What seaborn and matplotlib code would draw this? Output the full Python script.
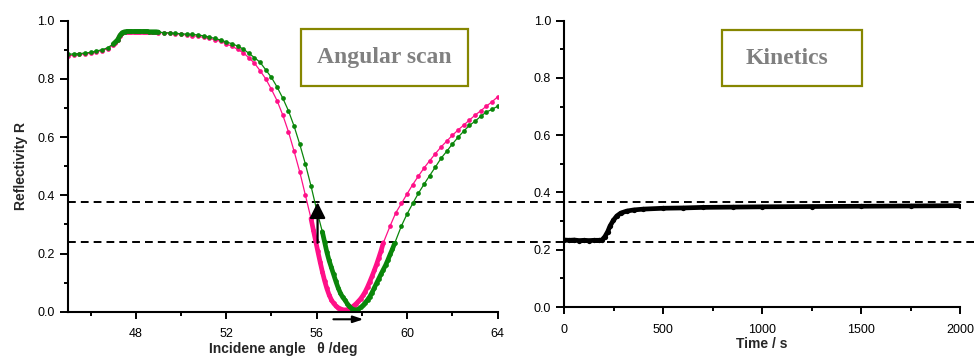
import numpy as np
import pandas as pd
import seaborn as sns
import matplotlib.pyplot as plt
from matplotlib.patches import Rectangle

# angular scan, green (after adsorption) curve
green_angle = [45.0, 45.25, 45.5, 45.75, 46.0, 46.25, 46.5, 46.75, 47.0,
               47.1, 47.2, 47.3, 47.4, 47.5, 47.6, 47.7, 47.8, 47.9, 48.0,
               48.1, 48.2, 48.3, 48.4, 48.5, 48.6, 48.7, 48.8, 48.9, 49.0,
               49.25, 49.5, 49.75, 50.0, 50.25, 50.5, 50.75, 51.0, 51.25, 51.5,
               51.75, 52.0, 52.25, 52.5, 52.75, 53.0, 53.25, 53.5, 53.75, 54.0,
               54.25, 54.5, 54.75, 55.0, 55.25, 55.5, 55.75, 56.0, 56.25,
               56.35, 56.45, 56.55, 56.65, 56.75, 56.85, 56.95, 57.05, 57.15, 57.25,
               57.35, 57.45, 57.55, 57.65, 57.75, 57.85, 57.95, 58.05, 58.15, 58.25,
               58.35, 58.45, 58.55, 58.65, 58.75, 58.85, 58.95, 59.05, 59.15, 59.25,
               59.35, 59.45,
               59.75, 60.0, 60.25, 60.5, 60.75, 61.0, 61.25, 61.5, 61.75, 62.0,
               62.25, 62.5, 62.75, 63.0, 63.25, 63.5, 63.75, 64.0]
green_R = [0.884, 0.886, 0.887, 0.889, 0.891, 0.896, 0.900, 0.907, 0.920,
           0.927, 0.935, 0.950, 0.959, 0.962, 0.963, 0.963, 0.963, 0.963, 0.963,
           0.963, 0.963, 0.963, 0.963, 0.963, 0.962, 0.962, 0.962, 0.962, 0.961,
           0.959, 0.958, 0.957, 0.955, 0.954, 0.953, 0.951, 0.948, 0.944, 0.939,
           0.934, 0.927, 0.921, 0.913, 0.903, 0.888, 0.873, 0.857, 0.831, 0.805,
           0.772, 0.734, 0.691, 0.638, 0.576, 0.508, 0.432, 0.350, 0.275,
           0.240, 0.205, 0.176, 0.152, 0.128, 0.104, 0.082, 0.064, 0.050, 0.040,
           0.028, 0.018, 0.011, 0.007, 0.006, 0.009, 0.015, 0.022, 0.031, 0.041,
           0.052, 0.066, 0.082, 0.098, 0.114, 0.130, 0.145, 0.160, 0.178, 0.197,
           0.215, 0.235,
           0.295, 0.336, 0.372, 0.407, 0.438, 0.468, 0.497, 0.527, 0.551, 0.576,
           0.599, 0.620, 0.640, 0.654, 0.671, 0.686, 0.695, 0.706]

# angular scan, pink (before adsorption) curve
pink_angle = [45.0, 45.25, 45.5, 45.75, 46.0, 46.25, 46.5, 46.75, 47.0,
              47.1, 47.2, 47.3, 47.4, 47.5, 47.6, 47.7, 47.8, 47.9, 48.0,
              48.1, 48.2, 48.3, 48.4, 48.5, 48.6, 48.7, 48.8, 48.9, 49.0,
              49.25, 49.5, 49.75, 50.0, 50.25, 50.5, 50.75, 51.0, 51.25, 51.5,
              51.75, 52.0, 52.25, 52.5, 52.75, 53.0, 53.25, 53.5, 53.75, 54.0,
              54.25, 54.5, 54.75, 55.0, 55.25, 55.5, 55.75,
              55.85, 55.95, 56.05, 56.15, 56.25, 56.35, 56.45, 56.55, 56.65, 56.75,
              56.85, 56.95, 57.05, 57.15, 57.25, 57.35, 57.45, 57.55, 57.65, 57.75,
              57.85, 57.95, 58.05, 58.15, 58.25, 58.35, 58.45, 58.55, 58.65, 58.75,
              58.85, 58.95,
              59.25, 59.5, 59.75, 60.0, 60.25, 60.5, 60.75, 61.0, 61.25, 61.5,
              61.75, 62.0, 62.25, 62.5, 62.75, 63.0, 63.25, 63.5, 63.75, 64.0]
pink_R = [0.879, 0.882, 0.884, 0.886, 0.888, 0.893, 0.897, 0.904, 0.916,
          0.924, 0.933, 0.948, 0.957, 0.960, 0.961, 0.961, 0.961, 0.961, 0.961,
          0.961, 0.961, 0.961, 0.961, 0.961, 0.960, 0.960, 0.960, 0.960, 0.959,
          0.958, 0.957, 0.955, 0.953, 0.951, 0.949, 0.946, 0.943, 0.939, 0.935,
          0.929, 0.921, 0.912, 0.902, 0.890, 0.873, 0.854, 0.828, 0.800, 0.764,
          0.725, 0.676, 0.619, 0.552, 0.481, 0.401, 0.320,
          0.282, 0.245, 0.208, 0.172, 0.138, 0.107, 0.080, 0.058, 0.041, 0.029,
          0.020, 0.014, 0.010, 0.007, 0.006, 0.007, 0.011, 0.015, 0.021, 0.028,
          0.036, 0.045, 0.056, 0.069, 0.085, 0.103, 0.122, 0.142, 0.163, 0.186,
          0.210, 0.237,
          0.295, 0.340, 0.372, 0.405, 0.437, 0.466, 0.494, 0.519, 0.543, 0.566,
          0.586, 0.606, 0.624, 0.641, 0.658, 0.675, 0.690, 0.706, 0.721, 0.738]

# kinetics
kin_time = [0, 25, 50, 75, 100, 125, 150, 175, 190, 205, 219, 231, 248, 265,
            285, 315, 350, 400, 500, 600, 700, 850, 1000, 1250, 1500, 1750, 2000]
kin_R = [0.234, 0.233, 0.234, 0.232, 0.233, 0.232, 0.233, 0.233, 0.234, 0.246,
         0.263, 0.283, 0.303, 0.318, 0.328, 0.335, 0.339, 0.342, 0.345, 0.346,
         0.348, 0.349, 0.350, 0.351, 0.352, 0.353, 0.354]

# dashed reference levels
levels_scan = [0.376, 0.239]
levels_kin = [0.368, 0.226]

PINK = '#ff1088'
GREEN = '#0a860a'

sns.set_style('ticks')
plt.rcParams['font.family'] = ['Liberation Sans', 'DejaVu Sans']


def make_frame(angle, refl):
    df = pd.DataFrame({'angle': angle, 'R': refl})
    step = np.diff(df['angle'])
    close = np.zeros(len(df), dtype=bool)
    close[1:] |= step < 0.2
    close[:-1] |= step < 0.2
    df['dense'] = close
    df['seg'] = (~close).cumsum()
    return df


fig = plt.figure(figsize=(9.74, 3.56), dpi=100)
ax1 = fig.add_axes([0.0698, 0.1244, 0.4410, 0.8174])
ax2 = fig.add_axes([0.5794, 0.1376, 0.4063, 0.8042])

for df_c, col in [(make_frame(pink_angle, pink_R), PINK),
                  (make_frame(green_angle, green_R), GREEN)]:
    sns.lineplot(data=df_c, x='angle', y='R', ax=ax1, color=col, lw=0.9,
                 sort=False, estimator=None, marker='o', markersize=3.4,
                 markeredgewidth=0)
    dense = df_c[df_c['dense']]
    sns.lineplot(data=dense, x='angle', y='R', units='seg', estimator=None,
                 ax=ax1, color=col, lw=3.4, sort=False)

df_k = pd.DataFrame({'t': kin_time, 'R': kin_R})
sns.lineplot(data=df_k, x='t', y='R', ax=ax2, color='black', lw=3.4,
             sort=False, estimator=None, marker='o', markersize=3.8,
             markeredgewidth=0)

dash = dict(color='black', lw=1.4, dashes=(4, 2.6), clip_on=False, zorder=1)
for lv in levels_scan:
    ax1.axhline(lv, xmin=0, xmax=1.076, **dash)
for lv in levels_kin:
    ax2.axhline(lv, xmin=-0.087, xmax=1.035, **dash)

# shift arrows
ax1.annotate('', xy=(56.04, 0.376), xytext=(56.04, 0.237),
             arrowprops=dict(arrowstyle='-|>,head_length=0.5,head_width=0.25',
                             color='black', lw=1.6, mutation_scale=19,
                             shrinkA=0, shrinkB=0))
ax1.annotate('', xy=(58.07, -0.026), xytext=(56.74, -0.026),
             annotation_clip=False,
             arrowprops=dict(arrowstyle='-|>,head_length=0.6,head_width=0.2',
                             color='black', lw=1.5, mutation_scale=10,
                             shrinkA=0, shrinkB=0))

ax1.set_xlim(45, 64)
ax1.set_ylim(0, 1.0)
ax1.set_xticks([48, 52, 56, 60, 64])
ax1.set_xticks([46, 50, 54, 58, 62], minor=True)
ax2.set_xlim(0, 2000)
ax2.set_ylim(0, 1.0)
ax2.set_xticks([0, 500, 1000, 1500, 2000])
ax2.set_xticks([250, 750, 1250, 1750], minor=True)

for ax in (ax1, ax2):
    ax.set_yticks([0.0, 0.2, 0.4, 0.6, 0.8, 1.0])
    ax.set_yticks([0.1, 0.3, 0.5, 0.7, 0.9], minor=True)
    ax.set_yticklabels(['0.0', '0.2', '0.4', '0.6', '0.8', '1.0'])
    sns.despine(ax=ax)
    for s in ('left', 'bottom'):
        ax.spines[s].set_linewidth(1.5)
        ax.spines[s].set_color('black')
    ax.tick_params(which='major', length=6, width=1.4, labelsize=9,
                   colors='black', pad=3.5)
    ax.tick_params(which='minor', length=3, width=1.4, colors='black')
    ax.tick_params(axis='x', which='major', length=5, pad=7)

ax1.set_xlabel('Incidene angle   θ /deg', fontsize=10, fontweight='bold',
               labelpad=1)
ax1.set_ylabel('Reflectivity R', fontsize=10, fontweight='bold', labelpad=7)
ax2.set_xlabel('Time / s', fontsize=10, fontweight='bold', labelpad=1)
ax2.set_ylabel('')

# title boxes
for ax, (x0, x1, y0, y1), label, cx in [
        (ax1, (0.5425, 0.931, 0.776, 0.971), 'Angular scan', 0.737),
        (ax2, (0.3985, 0.752, 0.772, 0.9675), 'Kinetics', 0.563)]:
    ax.add_patch(Rectangle((x0, y0), x1 - x0, y1 - y0, fill=False,
                           edgecolor='#868600', lw=1.6,
                           transform=ax.transAxes, clip_on=False))
    ax.text(cx, (y0 + y1) / 2, label, transform=ax.transAxes,
            ha='center', va='center', fontsize=17, fontweight='bold',
            color='#808080', family=['Liberation Serif', 'DejaVu Serif'])

fig.savefig('out.png', dpi=100)
